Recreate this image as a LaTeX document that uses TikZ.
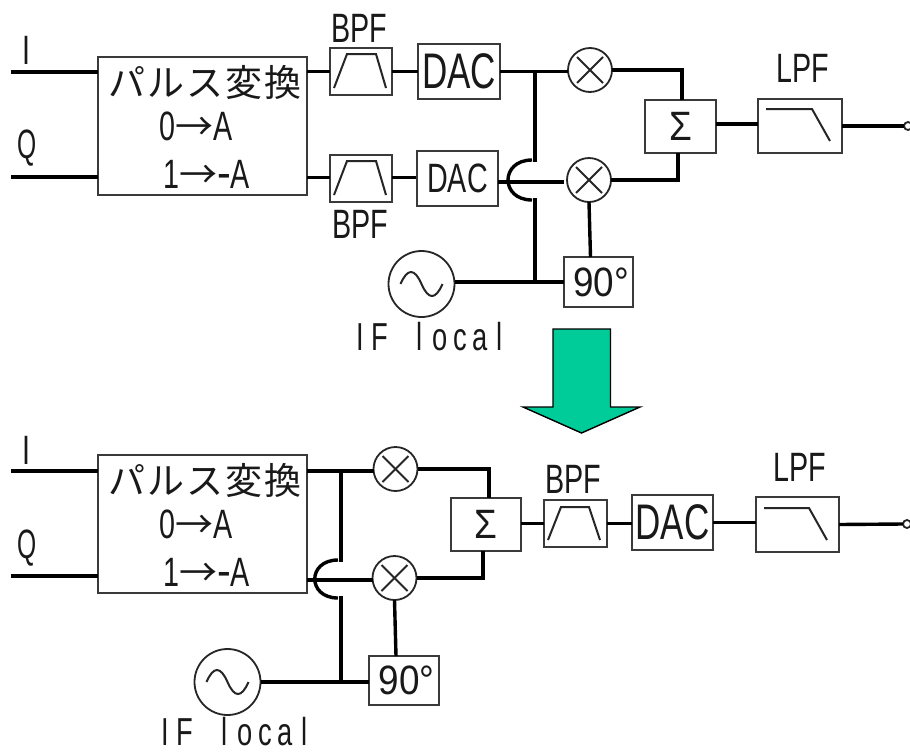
\documentclass[tikz,border=0pt]{standalone}
\usepackage{fontspec}
\setmainfont{Liberation Sans}
\newfontfamily\lat[FakeStretch=0.7]{Liberation Sans}
\newfontfamily\latq[FakeStretch=0.6]{Liberation Sans}
\newfontfamily\latw[FakeStretch=0.9]{Liberation Sans}
\newfontfamily\cjk[LetterSpace=5.5]{Noto Sans CJK JP}
\newfontfamily\cjkarrow{Noto Sans CJK JP}
\definecolor{boxgray}{HTML}{3A3A3A}
\definecolor{arrowgreen}{HTML}{00CC99}
\newcommand\spc[1]{\makebox[20pt]{#1}}
\newcommand\iflocal{\fontsize{39}{39}\selectfont\spc{I}\spc{F}\spc{ }\spc{l}\spc{o}\spc{c}\spc{a}\spc{l}}
\newcommand\pulsetext{{\cjk\fontsize{37}{37}\selectfont パルス変換}}
\newcommand\zeroline{0{\cjkarrow\fontsize{38}{38}\selectfont →}A}
\newcommand\oneline{1{\cjkarrow\fontsize{38}{38}\selectfont →}{\latw\fontsize{46}{46}\selectfont -}A}
\newcommand\mixmark[1]{\draw[thinline] ([shift={(-13,-13)}]#1.center) -- ([shift={(13,13)}]#1.center);
  \draw[thinline] ([shift={(-13,13)}]#1.center) -- ([shift={(13,-13)}]#1.center);}
\newcommand\sinemark[1]{\draw[thinline] ([shift={(-21,0)}]#1.center) .. controls ([shift={(-14,-16)}]#1.center) and ([shift={(-7,-16)}]#1.center) .. (#1.center) .. controls ([shift={(7,16)}]#1.center) and ([shift={(14,16)}]#1.center) .. ([shift={(21,0)}]#1.center);}
\tikzset{
  wire/.style={line width=3.4pt,black},
  thinline/.style={line width=2pt,black!85},
  blk/.style={draw=boxgray,line width=2pt,rectangle,fill=white,inner sep=0pt,outer sep=0pt},
  round/.style={draw=black!85,line width=1.8pt,circle,fill=white,inner sep=0pt,outer sep=0pt},
  lbl/.style={inner sep=0pt,outer sep=0pt,font=\lat\fontsize{41}{41}\selectfont,text=black!90},
  big/.style={font=\lat\fontsize{50}{50}\selectfont},
}
\begin{document}
\begin{tikzpicture}[x=1pt,y=-1pt]
\useasboundingbox (0,0) rectangle (910,753);
\fill[white] (0,0) rectangle (910,753);

% ---------- upper chain ----------
\coordinate (ti) at (11,72);
\coordinate (tq) at (11,177);
\node[blk,minimum width=209pt,minimum height=138pt] (tpulse) at (202.5,126) {};
\node[blk,minimum width=62pt,minimum height=47pt] (tbpfa) at (361,71.5) {};
\node[blk,minimum width=62pt,minimum height=47pt] (tbpfb) at (361,178.5) {};
\node[blk,minimum width=82pt,minimum height=55pt,lbl,big] (tdaca) at (459,71.5) {DAC};
\node[blk,minimum width=81pt,minimum height=55pt,lbl] (tdacb) at (457.5,178.5) {DAC};
\node[round,minimum size=44pt] (tmixa) at (590,70) {};
\node[round,minimum size=44pt] (tmixb) at (589,180) {};
\node[blk,minimum width=71pt,minimum height=53pt,lbl] (tsum) at (680.5,126) {\latw Σ};
\node[blk,minimum width=84pt,minimum height=54pt] (tlpf) at (800,126) {};
\node[blk,minimum width=69pt,minimum height=50pt,lbl] (tninety) at (598.5,282) {\hspace*{5pt}\latw 90°};
\node[round,minimum size=66pt] (tosc) at (421.5,284) {};
\node[round,minimum size=8pt] (tout) at (908,126) {};

\node[lbl] (tpt) at (205,82) {\pulsetext};
\node[lbl] (tzl) at (196,126) {\zeroline};
\node[lbl] (tol) at (206.5,174) {\oneline};
\node[lbl] (tlabi) at (26,50) {I};
\node[lbl] (tlabq) at (27,148) {\latq Q};
\node[lbl] (tlabba) at (359,28) {BPF};
\node[lbl] (tlabbb) at (360,224) {BPF};
\node[lbl] (tlablpf) at (803,68) {LPF};
\node[lbl] (tlabif) at (430,337) {\iflocal};

\draw[wire] (ti) -- (ti -| tpulse.west);
\draw[wire] (tq) -- (tq -| tpulse.west);
\draw[wire] (tpulse.east |- tbpfa) -- (tbpfa.west);
\draw[wire] (tbpfa.east) -- (tdaca.west);
\draw[wire] (tpulse.east |- tbpfb) ++(0,-1) -- ++(23,0);
\draw[wire] (tbpfb.east) ++(0,-1) -- ++(24,0);
\draw[wire] (tdaca.east) -- (tmixa.west |- tdaca);
\draw[wire] (tdacb.east |- tmixb) ++(0,2) -- ++(66,0);
\draw[wire] (tmixa.east) -| ([xshift=1.5pt]tsum.north);
\draw[wire] (tmixb.east) -| ([xshift=-2.5pt]tsum.south);
\draw[wire] (tsum.east) ++(0,-2) -- ++(42,0);
\draw[wire] (tlpf.east) -- (tout.west);
\draw[wire] (tmixb.south) -- ([xshift=-8pt]tninety.north);
\draw[wire] (tosc.east |- tninety) -- (tninety.west);
\coordinate (tja) at (535,72);
\coordinate (tjb) at (535,162);
\coordinate (tjc) at (535,198);
\coordinate (tjd) at (535,283);
\coordinate (tha) at (532,160);
\coordinate (thb) at (532,200);
\draw[wire] (tja) -- (tjb);
\draw[wire] (tjc) -- (tjd);
\draw[wire] (tha) .. controls ([xshift=-32pt]tha) and ([xshift=-32pt]thb) .. (thb);

\mixmark{tmixa}
\mixmark{tmixb}
\sinemark{tosc}
\draw[thinline] ([shift={(-27,16.5)}]tbpfa.center) -- ([shift={(-14,-17.5)}]tbpfa.center) -- ([shift={(15,-17.5)}]tbpfa.center) -- ([shift={(25,16.5)}]tbpfa.center);
\draw[thinline] ([shift={(-27,16.5)}]tbpfb.center) -- ([shift={(-14,-17.5)}]tbpfb.center) -- ([shift={(15,-17.5)}]tbpfb.center) -- ([shift={(25,16.5)}]tbpfb.center);
\draw[thinline] ([shift={(-34,-17)}]tlpf.center) -- ([shift={(12,-17)}]tlpf.center) -- ([shift={(30,15)}]tlpf.center);

% ---------- transition arrow ----------
\coordinate (arrowtip) at (581.5,433);
\draw[line width=1.4pt,fill=arrowgreen,draw=black,line join=miter] (553,329) -- (610.5,329) -- (610.5,407) -- (640,407) -- (arrowtip) -- (523,407) -- (553,407) -- cycle;

% ---------- lower chain ----------
\coordinate (bi) at (11,471);
\coordinate (bq) at (11,576);
\node[blk,minimum width=209pt,minimum height=138pt] (bpulse) at (202.5,524) {};
\node[round,minimum size=44pt] (bmixa) at (395.5,469) {};
\node[round,minimum size=44pt] (bmixb) at (394.5,578) {};
\node[blk,minimum width=70pt,minimum height=53pt,lbl] (bsum) at (486,524.5) {\latw Σ};
\node[blk,minimum width=63pt,minimum height=47pt] (bbpf) at (575.5,523.5) {};
\node[blk,minimum width=81pt,minimum height=55pt,lbl,big] (bdac) at (672.5,522.5) {DAC};
\node[blk,minimum width=83pt,minimum height=55pt] (blpf) at (797.5,524.5) {};
\node[blk,minimum width=70pt,minimum height=49pt,lbl] (bninety) at (404,680.5) {\hspace*{5pt}\latw 90°};
\node[round,minimum size=66pt] (bosc) at (227.5,682) {};
\node[round,minimum size=8pt] (bout) at (907,524) {};

\node[lbl] (bpt) at (205,480) {\pulsetext};
\node[lbl] (bzl) at (196,524) {\zeroline};
\node[lbl] (bol) at (206.5,572) {\oneline};
\node[lbl] (blabi) at (26,450) {I};
\node[lbl] (blabq) at (27,548) {\latq Q};
\node[lbl] (blabb) at (573,479) {BPF};
\node[lbl] (blablpf) at (800,467) {LPF};
\node[lbl] (blabif) at (235,732) {\iflocal};

\draw[wire] (bi) -- (bi -| bpulse.west);
\draw[wire] (bq) -- (bq -| bpulse.west);
\draw[wire] (bpulse.east |- bi) -- (bmixa.west |- bi);
\draw[wire] (bpulse.east |- bmixb) ++(0,2) -- ++(66,0);
\draw[wire] (bmixa.east) -| ([xshift=3pt]bsum.north);
\draw[wire] (bmixb.east) -| ([xshift=-3pt]bsum.south);
\draw[wire] (bsum.east) ++(0,-1) -- ++(23,0);
\draw[wire] (bbpf.east) -- (bdac.west |- bbpf);
\draw[wire] (bdac.east) -- (blpf.west |- bdac);
\draw[wire] (blpf.east) -- (bout.west);
\draw[wire] (bmixb.south) -- ([xshift=-8pt]bninety.north);
\draw[wire] (bosc.east) -- (bninety.west |- bosc);
\coordinate (bja) at (341,471);
\coordinate (bjb) at (341,562);
\coordinate (bjc) at (341,596);
\coordinate (bjd) at (341,682);
\coordinate (bha) at (338,560);
\coordinate (bhb) at (338,598);
\draw[wire] (bja) -- (bjb);
\draw[wire] (bjc) -- (bjd);
\draw[wire] (bha) .. controls ([xshift=-31pt]bha) and ([xshift=-31pt]bhb) .. (bhb);

\mixmark{bmixa}
\mixmark{bmixb}
\sinemark{bosc}
\draw[thinline] ([shift={(-27.5,16.5)}]bbpf.center) -- ([shift={(-14.5,-16.5)}]bbpf.center) -- ([shift={(13.5,-16.5)}]bbpf.center) -- ([shift={(24.5,16.5)}]bbpf.center);
\draw[thinline] ([shift={(-33.5,-16.5)}]blpf.center) -- ([shift={(11.5,-16.5)}]blpf.center) -- ([shift={(29.5,15.5)}]blpf.center);
\end{tikzpicture}
\end{document}
